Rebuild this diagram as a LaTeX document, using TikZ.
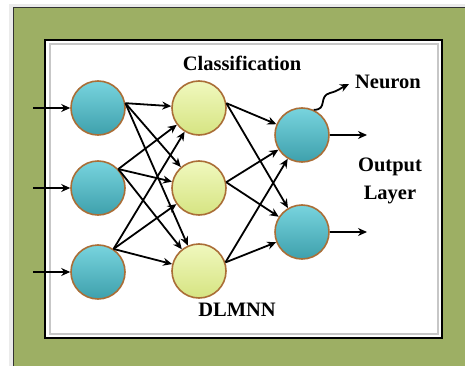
\documentclass[tikz,border=0pt]{standalone}
\usepackage{fontspec}
\setmainfont{Liberation Serif}
\usetikzlibrary{arrows.meta}
\definecolor{frameGreen}{RGB}{157,175,100}
\definecolor{tealTop}{RGB}{120,212,222}
\definecolor{tealBot}{RGB}{62,160,172}
\definecolor{yelTop}{RGB}{240,248,190}
\definecolor{yelBot}{RGB}{214,228,130}
\definecolor{rimBrown}{RGB}{170,110,55}
\tikzset{
  neuron/.style={circle, minimum size=54pt, inner sep=0pt, draw=rimBrown, line width=1.6pt},
  tealn/.style={neuron, top color=tealTop, bottom color=tealBot},
  yeln/.style={neuron, top color=yelTop, bottom color=yelBot},
  conn/.style={-{Stealth[length=9pt,width=8pt]}, line width=1.8pt, black},
  lbl/.style={font=\fontsize{20.5}{24}\selectfont\bfseries, text=black, inner sep=0pt}
}
\begin{document}
\begin{tikzpicture}[x=1pt,y=-1pt]
\useasboundingbox (0,0) rectangle (465,366);
\fill[white] (0,0) rectangle (465,366);
\fill[black!8] (9,4) rectangle (465,366);
\fill[frameGreen] (13,8) rectangle (470,372);
\draw[black!80, line width=1pt] (13,372) -- (13,8) -- (470,8);
% inner white panel
\fill[white] (45,40) rectangle (442,338);
\draw[black, line width=1.5pt] (45,40) rectangle (442,338);
\draw[black!22, line width=2pt] (49.5,44.5) rectangle (437.5,333.5);
% neurons
\node[tealn] (i1) at (98,108) {};
\node[tealn] (i2) at (98,188) {};
\node[tealn] (i3) at (98,272) {};
\node[yeln] (h1) at (199,108) {};
\node[yeln] (h2) at (199,188) {};
\node[yeln] (h3) at (199,271) {};
\node[tealn] (o1) at (302,135) {};
\node[tealn] (o2) at (302,232) {};
% input arrows
\coordinate (a1) at (33,108);
\coordinate (a2) at (33,188);
\coordinate (a3) at (33,272);
\draw[conn] (a1) -- (i1);
\draw[conn] (a2) -- (i2);
\draw[conn] (a3) -- (i3);
% input to hidden
\foreach \h in {h1,h2,h3}{
  \draw[conn] (i1.10) -- (\h);
  \draw[conn] (i2.43) -- (\h);
  \draw[conn] (i3.56) -- (\h);
}
% hidden to output
\foreach \o in {o1,o2}{
  \draw[conn] (h1.10) -- (\o);
  \draw[conn] (h2.12) -- (\o);
  \draw[conn] (h3.18) -- (\o);
}
% output arrows
\coordinate (b1) at (367,135);
\coordinate (b2) at (367,232);
\draw[conn] (o1) -- (b1);
\draw[conn] (o2) -- (b2);
% neuron pointer
\coordinate (nw) at (349,84);
\draw[conn] (o1.65) .. controls (328,110) and (318,96) .. (330,93) .. controls (338,91) and (341,88) .. (nw);
% labels
\node[lbl] (tc) at (242,63) {Classification};
\node[lbl] (tn) at (388,82) {Neuron};
\node[lbl] (to) at (390,167) {Output};
\node[lbl] (tl) at (390,195) {Layer};
\node[lbl] (td) at (237,310) {DLMNN};
\end{tikzpicture}
\end{document}
